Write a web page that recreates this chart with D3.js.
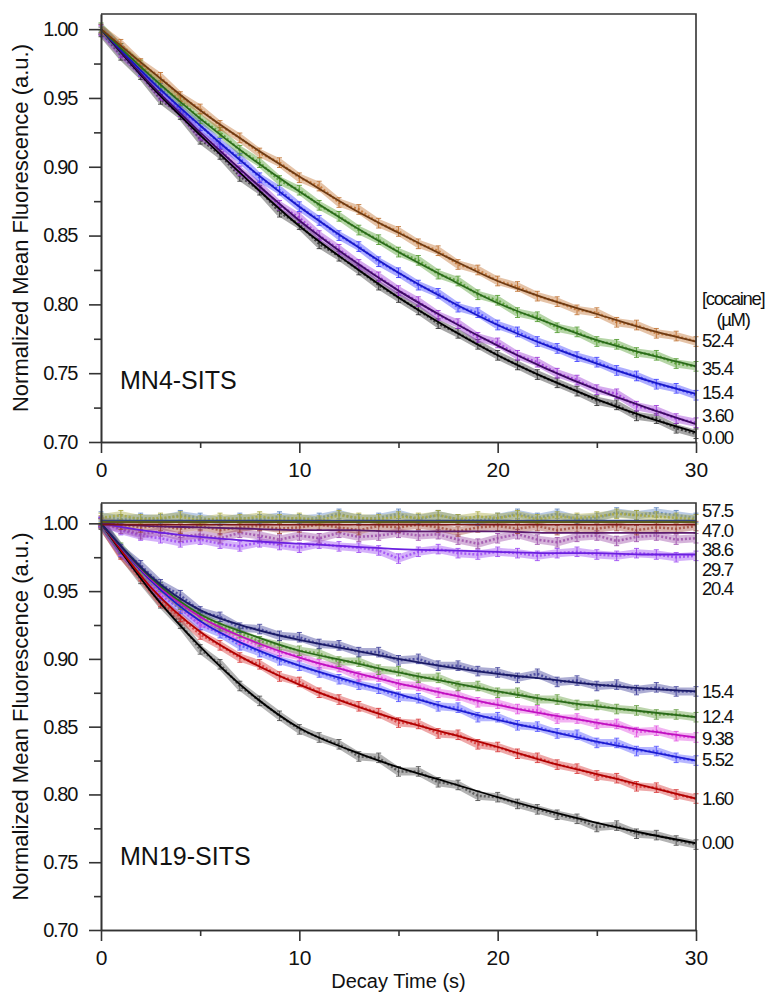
<!DOCTYPE html>
<html>
<head>
<meta charset="utf-8">
<script src="https://cdn.jsdelivr.net/npm/d3@7"></script>
<style>
body { margin:0; background:#fff; }
svg { display:block; font-family:"Liberation Sans", Arial, sans-serif; }
</style>
</head>
<body>
<svg id="chart" width="769" height="993"></svg>
<script>
// time axis of the measured points and of the fitted curves (s)
const time = [0,1,2,3,4,5,6,7,8,9,10,11,12,13,14,15,16,17,18,19,20,21,22,23,24,25,26,27,28,29,30];
const fitTime = [0,2.5,5,7.5,10,12.5,15,17.5,20,22.5,25,27.5,30];

const xTicks = [0,10,20,30];
const xMinor = [5,15,25];
const yTicks = [0.70,0.75,0.80,0.85,0.90,0.95,1.00];
const yMinor = [0.725,0.775,0.825,0.875,0.925,0.975];

// ---- MN4-SITS, [cocaine] uM ----
const mn4Conc = ["0.00","3.60","15.4","35.4","52.4"];
const mn4Data000 = [0.998,0.981,0.967,0.949,0.938,0.920,0.909,0.893,0.883,0.867,0.858,0.844,0.835,0.825,0.814,0.805,0.796,0.786,0.779,0.771,0.763,0.756,0.749,0.743,0.737,0.730,0.727,0.719,0.717,0.710,0.706];
const mn4Data360 = [0.999,0.983,0.969,0.952,0.940,0.923,0.913,0.897,0.886,0.872,0.863,0.850,0.840,0.829,0.820,0.810,0.802,0.792,0.786,0.776,0.772,0.763,0.758,0.750,0.745,0.738,0.735,0.726,0.723,0.717,0.714];
const mn4Data154 = [1.000,0.986,0.970,0.957,0.942,0.930,0.917,0.906,0.892,0.883,0.871,0.861,0.850,0.842,0.831,0.823,0.814,0.808,0.798,0.794,0.785,0.780,0.773,0.768,0.762,0.758,0.752,0.748,0.742,0.739,0.734];
const mn4Data354 = [1.001,0.986,0.974,0.959,0.948,0.935,0.925,0.912,0.903,0.890,0.883,0.872,0.864,0.854,0.847,0.838,0.832,0.822,0.817,0.807,0.803,0.794,0.791,0.783,0.780,0.773,0.771,0.765,0.763,0.757,0.755];
const mn4Data524 = [1.000,0.989,0.975,0.965,0.951,0.942,0.930,0.921,0.910,0.903,0.892,0.886,0.874,0.869,0.859,0.853,0.844,0.839,0.829,0.825,0.817,0.813,0.806,0.802,0.796,0.794,0.787,0.785,0.779,0.777,0.773];
const mn4Fit000 = [1.000,0.959,0.923,0.889,0.857,0.830,0.805,0.783,0.763,0.746,0.731,0.718,0.707];
const mn4Fit360 = [1.000,0.960,0.925,0.892,0.861,0.834,0.810,0.789,0.770,0.753,0.738,0.725,0.713];
const mn4Fit154 = [1.000,0.963,0.930,0.899,0.871,0.846,0.823,0.803,0.785,0.770,0.757,0.745,0.735];
const mn4Fit354 = [1.000,0.966,0.935,0.907,0.882,0.859,0.838,0.819,0.801,0.787,0.774,0.764,0.755];
const mn4Fit524 = [1.000,0.970,0.941,0.916,0.893,0.871,0.852,0.834,0.817,0.804,0.793,0.782,0.773];

// ---- MN19-SITS, [cocaine] uM ----
const mn19Conc = ["0.00","1.60","5.52","9.38","12.4","15.4","20.4","29.7","38.6","47.0","57.5"];
const mn19Data000 = [0.999,0.978,0.959,0.941,0.926,0.907,0.896,0.880,0.869,0.858,0.848,0.842,0.837,0.828,0.827,0.817,0.817,0.809,0.807,0.799,0.798,0.793,0.789,0.785,0.782,0.776,0.777,0.771,0.770,0.766,0.763];
const mn19Data160 = [1.000,0.977,0.961,0.942,0.931,0.918,0.910,0.901,0.896,0.887,0.883,0.875,0.870,0.865,0.860,0.853,0.852,0.845,0.844,0.837,0.835,0.830,0.827,0.822,0.819,0.814,0.812,0.806,0.805,0.800,0.797];
const mn19Data552 = [1.001,0.979,0.964,0.947,0.937,0.925,0.919,0.910,0.905,0.899,0.895,0.890,0.885,0.881,0.878,0.872,0.871,0.865,0.864,0.857,0.857,0.851,0.850,0.845,0.844,0.838,0.838,0.832,0.832,0.827,0.825];
const mn19Data938 = [1.000,0.980,0.965,0.949,0.940,0.927,0.922,0.914,0.910,0.905,0.902,0.896,0.894,0.887,0.887,0.881,0.880,0.875,0.873,0.868,0.867,0.863,0.862,0.856,0.856,0.852,0.852,0.846,0.847,0.843,0.842];
const mn19Data124 = [1.000,0.982,0.965,0.953,0.940,0.932,0.924,0.919,0.913,0.910,0.906,0.904,0.898,0.898,0.892,0.891,0.886,0.886,0.880,0.880,0.875,0.875,0.870,0.870,0.866,0.866,0.863,0.862,0.859,0.859,0.857];
const mn19Data154 = [1.001,0.981,0.969,0.955,0.947,0.935,0.931,0.923,0.922,0.917,0.916,0.911,0.910,0.905,0.905,0.899,0.900,0.895,0.895,0.891,0.890,0.886,0.889,0.883,0.884,0.880,0.881,0.877,0.879,0.876,0.876];
const mn19Data204 = [1.001,0.995,0.991,0.989,0.986,0.988,0.985,0.983,0.986,0.984,0.982,0.985,0.983,0.982,0.980,0.974,0.979,0.981,0.978,0.977,0.979,0.978,0.976,0.978,0.979,0.977,0.976,0.978,0.977,0.975,0.976];
const mn19Data297 = [1.000,0.996,0.992,0.994,0.990,0.992,0.989,0.993,0.991,0.988,0.991,0.989,0.993,0.990,0.991,0.993,0.991,0.992,0.988,0.985,0.989,0.992,0.988,0.986,0.990,0.991,0.987,0.990,0.991,0.988,0.989];
const mn19Data386 = [1.002,0.999,0.997,0.998,0.996,0.998,0.995,0.997,0.998,0.996,0.997,0.999,0.997,0.995,0.998,0.997,0.999,0.997,0.994,0.997,0.998,0.996,0.998,0.995,0.997,0.996,0.998,0.995,0.997,0.996,0.998];
const mn19Data470 = [1.005,1.003,1.004,1.003,1.006,1.004,1.002,1.004,1.003,1.005,1.003,1.004,1.007,1.003,1.004,1.007,1.003,1.006,1.003,1.002,1.004,1.007,1.004,1.007,1.003,1.004,1.008,1.006,1.008,1.006,1.004];
const mn19Data575 = [1.004,1.006,1.003,1.004,1.005,1.002,1.004,1.003,1.005,1.003,1.004,1.002,1.006,1.004,1.003,1.005,1.004,1.006,1.003,1.005,1.004,1.006,1.003,1.005,1.004,1.005,1.007,1.006,1.005,1.004,1.003];
const mn19Fit000 = [1.000,0.950,0.909,0.875,0.849,0.833,0.820,0.809,0.798,0.788,0.779,0.771,0.764];
const mn19Fit160 = [1.000,0.953,0.920,0.898,0.881,0.867,0.855,0.845,0.835,0.824,0.815,0.806,0.797];
const mn19Fit552 = [1.000,0.958,0.928,0.909,0.895,0.884,0.874,0.864,0.855,0.847,0.839,0.832,0.825];
const mn19Fit938 = [1.000,0.959,0.931,0.914,0.901,0.891,0.882,0.874,0.866,0.859,0.853,0.847,0.842];
const mn19Fit124 = [1.000,0.960,0.933,0.918,0.906,0.898,0.890,0.883,0.876,0.870,0.865,0.861,0.857];
const mn19Fit154 = [1.000,0.961,0.936,0.923,0.914,0.907,0.900,0.894,0.889,0.885,0.881,0.878,0.876];
const mn19Fit204 = [1.000,0.994,0.990,0.987,0.985,0.983,0.981,0.980,0.979,0.978,0.978,0.977,0.977];
const mn19Fit297 = [1.000,0.998,0.997,0.996,0.995,0.995,0.994,0.994,0.994,0.993,0.993,0.993,0.993];
const mn19Fit386 = [0.999,0.999,0.999,0.999,0.999,0.999,0.999,0.999,0.999,0.999,0.999,0.999,0.999];
const mn19Fit470 = [1.002,1.002,1.002,1.002,1.002,1.002,1.002,1.002,1.002,1.002,1.002,1.002,1.002];
const mn19Fit575 = [1.001,1.001,1.001,1.001,1.001,1.001,1.001,1.001,1.001,1.001,1.001,1.001,1.001];

// where the concentration labels sit on the right (value units), hand placed like the original
const mn4LabelAt = [0.7036,0.7196,0.7363,0.7531,0.7734];
const mn19LabelAt = [0.7644,0.7973,0.8254,0.8416,0.8573,0.8757,0.9520,0.9660,0.9810,0.9950,1.0095];

const errHalf = 0.0035;

class DecayPanel {

    constructor( config, series ) {
        this.config = {
            parent: config.parent,
            top: config.top,
            bottom: config.bottom,
            left: config.left || 101,
            right: config.right || 696,
            yMax: config.yMax,
            name: config.name,
            nameY: config.nameY,
            header: config.header || false,
            xlabel: config.xlabel || ''
        }
        this.series = series;
        this.init();
    }

    init() {
        let self = this;
        self.svg = d3.select( self.config.parent );
        self.chart = self.svg.append('g');

        self.xscale = d3.scaleLinear()
            .domain([0, 30])
            .range([self.config.left, self.config.right]);
        self.yscale = d3.scaleLinear()
            .domain([0.70, self.config.yMax])
            .range([self.config.bottom, self.config.top]);
    }

    render() {
        let self = this;
        const x = self.xscale, y = self.yscale;
        const c = self.config;

        // measured points: fuzzy band + points with error bars
        self.series.forEach( s => {
            const pts = time.map( (t,i) => ({t:t, v:s.data[i]}) );
            const g = self.chart.append('g');
            g.append('path')
                .datum(pts)
                .attr('d', d3.line().x(d => x(d.t)).y(d => y(d.v)))
                .attr('fill', 'none')
                .attr('stroke', s.color)
                .attr('stroke-width', 8)
                .attr('stroke-linejoin', 'round')
                .attr('opacity', 0.42);
            g.append('path')
                .datum(pts)
                .attr('d', d3.line().x(d => x(d.t)).y(d => y(d.v)))
                .attr('fill', 'none')
                .attr('stroke', s.color)
                .attr('stroke-width', 2.5)
                .attr('stroke-dasharray', '2 2')
                .attr('opacity', 0.8);
            g.selectAll('.eb')
                .data(pts)
                .enter()
                .append('path')
                .attr('d', d => {
                    const x0 = x(d.t), y0 = y(d.v - errHalf), y1 = y(d.v + errHalf);
                    return `M${x0},${y0}V${y1}M${x0-2.5},${y0}H${x0+2.5}M${x0-2.5},${y1}H${x0+2.5}`;
                })
                .attr('stroke', s.color)
                .attr('stroke-width', 1)
                .attr('fill', 'none')
                .attr('opacity', 0.85);
        });

        // fitted curves on top
        self.series.forEach( s => {
            self.chart.append('path')
                .datum( fitTime.map( (t,i) => ({t:t, v:s.fit[i]}) ) )
                .attr('d', d3.line().curve(d3.curveMonotoneX).x(d => x(d.t)).y(d => y(d.v)))
                .attr('fill', 'none')
                .attr('stroke', s.fitColor)
                .attr('stroke-width', 1.8);
        });

        // axes
        const ax = self.svg.append('g').attr('class', 'axes');
        ax.append('g')
            .attr('transform', `translate(${c.left},0)`)
            .call( d3.axisLeft(y).tickValues(yMinor).tickSize(7).tickFormat('').tickSizeOuter(0) );
        ax.append('g')
            .attr('transform', `translate(${c.left},0)`)
            .call( d3.axisLeft(y).tickValues(yTicks).tickSize(12).tickPadding(12)
                .tickFormat(d3.format('.2f')).tickSizeOuter(0) )
            .selectAll('text')
            .attr('font-size', 20)
            .attr('letter-spacing', -1.3);
        ax.append('g')
            .attr('transform', `translate(0,${c.bottom})`)
            .call( d3.axisBottom(x).tickValues(xMinor).tickSize(6).tickFormat('').tickSizeOuter(0) );
        ax.append('g')
            .attr('transform', `translate(0,${c.bottom})`)
            .call( d3.axisBottom(x).tickValues(xTicks).tickSize(11).tickPadding(9).tickSizeOuter(0) )
            .selectAll('text')
            .attr('font-size', 21);
        ax.selectAll('path.domain, .tick line')
            .attr('stroke', '#333')
            .attr('stroke-width', 1.6);
        ax.selectAll('text').attr('fill', '#111').attr('font-family', 'inherit');

        // frame (top and right)
        ax.append('path')
            .attr('d', `M${c.left},${c.top}H${c.right}V${c.bottom}`)
            .attr('fill', 'none')
            .attr('stroke', '#333')
            .attr('stroke-width', 1.6);

        // y title
        self.svg.append('text')
            .attr('transform', `translate(28,${(c.top + c.bottom)/2}) rotate(-90)`)
            .attr('text-anchor', 'middle')
            .attr('font-size', 22)
            .attr('fill', '#111')
            .text('Normalized Mean Fluorescence (a.u.)');

        // panel name
        self.svg.append('text')
            .attr('x', 120)
            .attr('y', y(c.nameY))
            .attr('font-size', 25)
            .attr('fill', '#111')
            .text(c.name);

        // concentration labels
        self.svg.selectAll(null)
            .data(self.series)
            .enter()
            .append('text')
            .attr('x', c.right + 6)
            .attr('y', d => y(d.labelAt))
            .attr('dy', '0.35em')
            .attr('font-size', 18.5)
            .attr('letter-spacing', -1.3)
            .attr('fill', '#111')
            .text(d => d.conc);

        if (c.header) {
            self.svg.append('text')
                .attr('x', c.right + 6)
                .attr('y', y(0.8045))
                .attr('dy', '0.35em')
                .attr('font-size', 18.5)
                .attr('letter-spacing', -1.3)
                .attr('fill', '#111')
                .text('[cocaine]');
            self.svg.append('text')
                .attr('x', c.right + 37)
                .attr('y', y(0.7890))
                .attr('dy', '0.35em')
                .attr('text-anchor', 'middle')
                .attr('font-size', 18.5)
                .attr('letter-spacing', -1.3)
                .attr('fill', '#111')
                .text('(µM)');
        }

        if (c.xlabel) {
            self.svg.append('text')
                .attr('x', (c.left + c.right)/2)
                .attr('y', c.bottom + 58)
                .attr('text-anchor', 'middle')
                .attr('font-size', 20)
                .attr('fill', '#111')
                .text(c.xlabel);
        }
    }
}

// colours: points / fitted line
const mn4Colors = ['#2a2a2a','#9a34d6','#3c3cff','#4f9a2c','#c0702e'];
const mn4FitColors = ['#000000','#3d0a63','#1818c8','#2a6a1a','#6e3a12'];
const mn19Colors = ['#4a4a4a','#d63030','#5050ff','#e04ae0','#5f9a3a','#3a3a96','#9a44f2','#9a4aa8','#a04a3a','#5b82c0','#a8a83c'];
const mn19FitColors = ['#000000','#b00000','#1c1cd0','#c010c0','#2a6a1a','#1a1a66','#6a1fe0','#5a1a6e','#7a1414','#33447a','#5b5b1f'];

const mn4Data = [mn4Data000, mn4Data360, mn4Data154, mn4Data354, mn4Data524];
const mn4Fit = [mn4Fit000, mn4Fit360, mn4Fit154, mn4Fit354, mn4Fit524];
const mn19Data = [mn19Data000, mn19Data160, mn19Data552, mn19Data938, mn19Data124, mn19Data154,
                  mn19Data204, mn19Data297, mn19Data386, mn19Data470, mn19Data575];
const mn19Fit = [mn19Fit000, mn19Fit160, mn19Fit552, mn19Fit938, mn19Fit124, mn19Fit154,
                 mn19Fit204, mn19Fit297, mn19Fit386, mn19Fit470, mn19Fit575];

const mn4Series = mn4Conc.map( (k,i) => ({
    conc:k, data:mn4Data[i], fit:mn4Fit[i], color:mn4Colors[i], fitColor:mn4FitColors[i], labelAt:mn4LabelAt[i]
}));
const mn19Series = mn19Conc.map( (k,i) => ({
    conc:k, data:mn19Data[i], fit:mn19Fit[i], color:mn19Colors[i], fitColor:mn19FitColors[i], labelAt:mn19LabelAt[i]
}));

const topPanel = new DecayPanel({
    parent:'#chart', top:14, bottom:442, yMax:1.011, name:'MN4-SITS', nameY:0.7384, header:true
}, mn4Series);
topPanel.render();

const bottomPanel = new DecayPanel({
    parent:'#chart', top:503, bottom:930, yMax:1.015, name:'MN19-SITS', nameY:0.7479, xlabel:'Decay Time (s)'
}, mn19Series);
bottomPanel.render();
</script>
</body>
</html>
